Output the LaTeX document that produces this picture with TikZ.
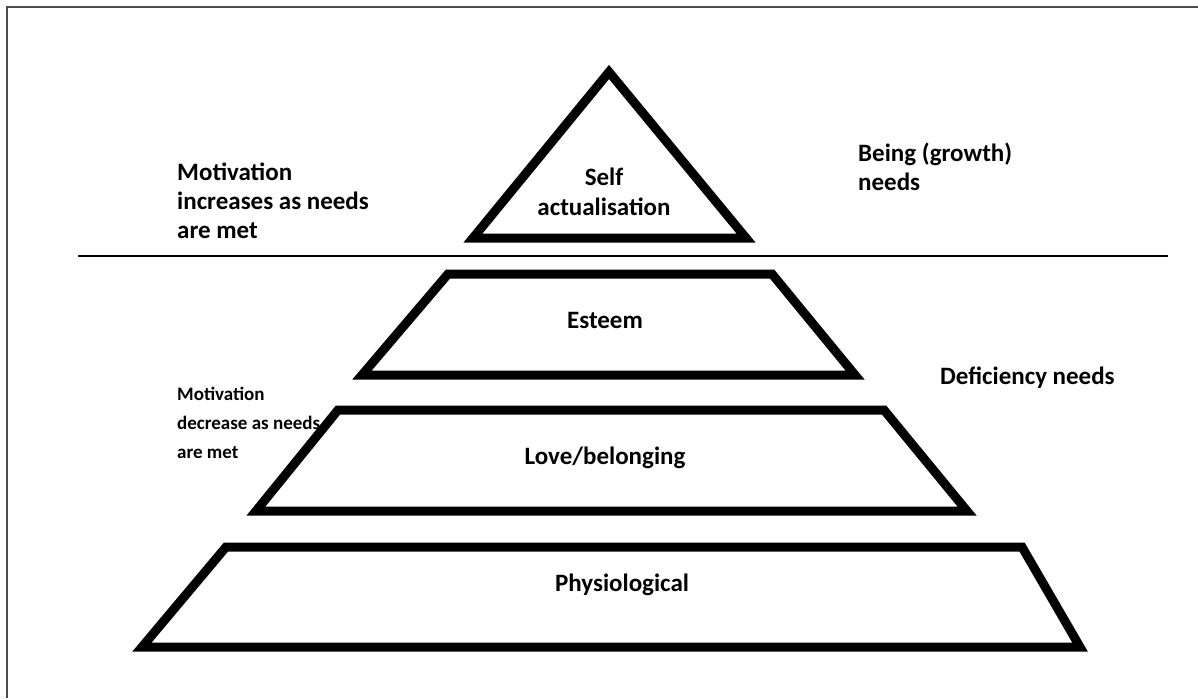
\documentclass[tikz,border=0pt]{standalone}
\usepackage{fontspec}
\setmainfont{Carlito}
\begin{document}
\begin{tikzpicture}[x=1pt,y=-1pt,
  level/.style={draw=black, line width=9pt, line join=miter},
  sidelbl/.style={font=\fontsize{25}{29}\selectfont\bfseries, inner sep=0pt, align=left, anchor=north west},
  smalllbl/.style={font=\fontsize{19}{29}\selectfont\bfseries, inner sep=0pt, align=left, anchor=north west},
  inlbl/.style={font=\fontsize{25}{30}\selectfont\bfseries, inner sep=0pt, align=center}]
\useasboundingbox (0,0) rectangle (1198,698);
\fill[white] (0,0) rectangle (1198,698);
\draw[line width=2.5pt, draw=black!70] (7,698) -- (7,7) -- (1198,7);
% divider
\coordinate (divL) at (78,256);
\coordinate (divR) at (1168,256);
\draw[line width=2pt] (divL) -- (divR);
% apex triangle
\draw[level] (609,72) -- (746,238) -- (473,238) -- cycle;
% esteem
\draw[level] (448,274) -- (772,274) -- (855,375) -- (362,375) -- cycle;
% love
\draw[level] (338,410) -- (884,410) -- (967,511) -- (256,511) -- cycle;
% physiological
\draw[level] (226,547) -- (1022,547) -- (1080,647) -- (142,647) -- cycle;
% labels
\node[inlbl] (self) at (604,192) {Self\\actualisation};
\node[inlbl] (esteem) at (605,320) {Esteem};
\node[inlbl] (love) at (605,458) {Love/belonging};
\node[inlbl] (phys) at (622,585) {Physiological};
\node[sidelbl] (motinc) at (177,163) {Motivation\\increases as needs\\are met};
\node[smalllbl] (motdec) at (177,387) {Motivation\\decrease as needs\\are met};
\node[sidelbl] (being) at (858,143) {Being (growth)\\needs};
\node[inlbl, anchor=west] (defic) at (940,378) {Deficiency needs};
\end{tikzpicture}
\end{document}
